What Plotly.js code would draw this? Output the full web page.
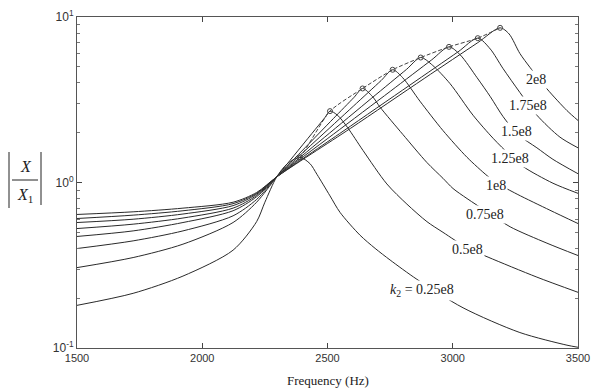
<!DOCTYPE html>
<html><head><meta charset="utf-8">
<script src="https://cdn.plot.ly/plotly-3.0.1.min.js"></script>
<style>html,body{margin:0;padding:0;background:#fff;}#chart{width:595px;height:392px;}</style>
</head><body><div id="chart"></div>
<script>
// ---- data ----
const freq_k025 = [1500,1724,1923,2123,2217,2250,2297,2340,2390,2430,2458,2510,2550,2630,2690,2750,2857,3041,3268,3456,3500];
const mag_k025  = [0.181,0.214,0.272,0.39,0.58,0.76,1.08,1.30,1.42,1.30,1.12,0.83,0.66,0.48,0.40,0.34,0.26,0.175,0.124,0.104,0.101];

const freq_k05 = [1500,1724,1923,2123,2217,2297,2367,2438,2489,2510,2540,2580,2642,2737,2817,2897,2961,3061,3141,3336,3500];
const mag_k05  = [0.306,0.352,0.424,0.573,0.76,1.08,1.46,1.98,2.46,2.70,2.55,2.15,1.56,0.98,0.74,0.58,0.50,0.40,0.354,0.268,0.217];

const freq_k075 = [1500,1724,1923,2123,2217,2297,2410,2523,2606,2640,2680,2710,2801,2897,2961,3001,3057,3141,3229,3376,3500];
const mag_k075  = [0.399,0.444,0.51,0.629,0.79,1.08,1.62,2.43,3.27,3.70,3.30,2.85,1.95,1.32,1.06,0.92,0.80,0.659,0.54,0.43,0.362];

const freq_k1 = [1500,1724,1923,2123,2217,2297,2450,2603,2714,2760,2800,2869,2961,3057,3137,3177,3257,3388,3500];
const mag_k1  = [0.472,0.51,0.573,0.675,0.82,1.08,1.77,2.89,4.13,4.80,4.30,3.10,2.06,1.42,1.10,0.99,0.85,0.68,0.565];

const freq_k125 = [1500,1724,1923,2123,2217,2297,2487,2677,2815,2872,2920,2989,3081,3161,3229,3280,3400,3500];
const mag_k125  = [0.527,0.56,0.61,0.70,0.835,1.08,1.87,3.24,4.82,5.69,5.10,3.96,2.55,1.85,1.46,1.25,0.99,0.86];

const freq_k15 = [1500,1724,1923,2123,2217,2297,2524,2751,2916,2985,3030,3097,3150,3201,3260,3336,3400,3500];
const mag_k15  = [0.573,0.60,0.645,0.725,0.85,1.08,1.96,3.56,5.51,6.6,5.9,4.3,3.3,2.5,1.95,1.62,1.38,1.13];

const freq_k175 = [1500,1724,1923,2123,2217,2297,2562,2827,3020,3100,3150,3200,3268,3336,3428,3500];
const mag_k175  = [0.606,0.635,0.675,0.745,0.86,1.08,2.04,3.86,6.14,7.45,6.4,4.9,3.5,2.55,1.88,1.62];

const freq_k2 = [1500,1724,1923,2123,2217,2297,2591,2886,3100,3189,3225,3268,3308,3376,3456,3500];
const mag_k2  = [0.641,0.665,0.70,0.76,0.87,1.08,2.12,4.25,7.0,8.6,7.9,6.02,4.97,3.68,2.72,2.37];

// locus of the resonance peaks
const peakFreq = [2297,2390,2510,2640,2760,2872,2985,3100,3189];
const peakMag  = [1.08,1.42,2.70,3.70,4.80,5.69,6.6,7.45,8.6];

// curve labels
const curveLabels = ["<i>k</i><sub>2</sub> = 0.25e8","0.5e8","0.75e8","1e8","1.25e8","1.5e8","1.75e8","2e8"];
const labelFreq = [2877,3057,3129,3173,3229,3253,3300,3332];
const labelMag  = [0.222,0.394,0.64,0.96,1.40,2.03,2.9,4.19];

const xTickVals = [1500,2000,2500,3000,3500];
const yTickVals = [0.1,1,10];
const yTickText = ["10<sup>-1</sup>","10<sup>0</sup>","10<sup>1</sup>"];
const xTitle = "Frequency (Hz)";

// ---- chart ----
const series = [
  [freq_k025,mag_k025],[freq_k05,mag_k05],[freq_k075,mag_k075],[freq_k1,mag_k1],
  [freq_k125,mag_k125],[freq_k15,mag_k15],[freq_k175,mag_k175],[freq_k2,mag_k2]
];
const traces = series.map(s => ({
  x: s[0], y: s[1], type: 'scatter', mode: 'lines',
  line: {color: '#2a2a2a', width: 1, shape: 'spline', smoothing: 0.8},
  hoverinfo: 'skip', showlegend: false
}));
traces.push({
  x: peakFreq, y: peakMag, type: 'scatter', mode: 'lines',
  line: {color: '#444', width: 1, dash: '4px,2px', shape: 'spline', smoothing: 0.6},
  showlegend: false, hoverinfo: 'skip'
});
traces.push({
  x: peakFreq.slice(1), y: peakMag.slice(1), type: 'scatter', mode: 'markers',
  marker: {symbol: 'circle-open', size: 5, color: '#444', line: {width: 1}},
  showlegend: false, hoverinfo: 'skip'
});

const serif = 'Liberation Serif, Times New Roman, serif';
const sans = 'Liberation Sans, Arial, sans-serif';

const annotations = curveLabels.map((t, i) => ({
  x: labelFreq[i], y: Math.log10(labelMag[i]), xref: 'x', yref: 'y',
  text: t, showarrow: false, bgcolor: '#ffffff', borderpad: 1,
  font: {family: serif, size: 14, color: '#222'}
}));
// x title
annotations.push({xref: 'paper', yref: 'paper', x: 0.5, y: -0.097, xanchor: 'center', yanchor: 'middle',
  text: xTitle, showarrow: false, font: {family: serif, size: 13, color: '#222'}});
// y title |X / X1|
const pxX = px => (px - 77) / 501;
const pxY = py => (348 - py) / 331;
annotations.push({xref: 'paper', yref: 'paper', x: pxX(26), y: pxY(166), xanchor: 'center', yanchor: 'middle',
  text: '<i>X</i>', showarrow: false, font: {family: serif, size: 16, color: '#222'}});
annotations.push({xref: 'paper', yref: 'paper', x: pxX(25), y: pxY(195), xanchor: 'center', yanchor: 'middle',
  text: '<i>X</i><sub>1</sub>', showarrow: false, font: {family: serif, size: 16, color: '#222'}});

const shapes = [
  {type: 'line', xref: 'paper', yref: 'paper', x0: pxX(9), x1: pxX(9), y0: pxY(152), y1: pxY(208), line: {color: '#222', width: 1}},
  {type: 'line', xref: 'paper', yref: 'paper', x0: pxX(41), x1: pxX(41), y0: pxY(152), y1: pxY(205), line: {color: '#222', width: 1}},
  {type: 'line', xref: 'paper', yref: 'paper', x0: pxX(12), x1: pxX(38), y0: pxY(180), y1: pxY(180), line: {color: '#222', width: 1}}
];

const minorY = [0.2,0.3,0.4,0.5,0.6,0.7,0.8,0.9,2,3,4,5,6,7,8,9];

const layout = {
  width: 595, height: 392,
  margin: {l: 77, r: 17, t: 17, b: 44, pad: 0},
  paper_bgcolor: '#fff', plot_bgcolor: '#fff',
  showlegend: false,
  xaxis: {
    range: [1500, 3500], tickmode: 'array', tickvals: xTickVals,
    ticks: 'inside', ticklen: 5, tickcolor: '#444', showgrid: false, zeroline: false,
    showline: true, linecolor: '#555', linewidth: 1, mirror: 'allticks',
    tickfont: {family: sans, size: 11, color: '#333'}
  },
  yaxis: {
    type: 'log', range: [-1, 1], tickmode: 'array', tickvals: yTickVals, ticktext: yTickText,
    ticks: 'inside', ticklen: 5, tickcolor: '#444', showgrid: false, zeroline: false,
    showline: true, linecolor: '#555', linewidth: 1, mirror: 'allticks',
    tickfont: {family: sans, size: 12, color: '#333'},
    minor: {ticks: 'inside', ticklen: 3, tickcolor: '#777', tickmode: 'array', tickvals: minorY, showgrid: false}
  },
  annotations: annotations,
  shapes: shapes
};

Plotly.newPlot('chart', traces, layout, {staticPlot: true, displayModeBar: false});
</script>
</body></html>
